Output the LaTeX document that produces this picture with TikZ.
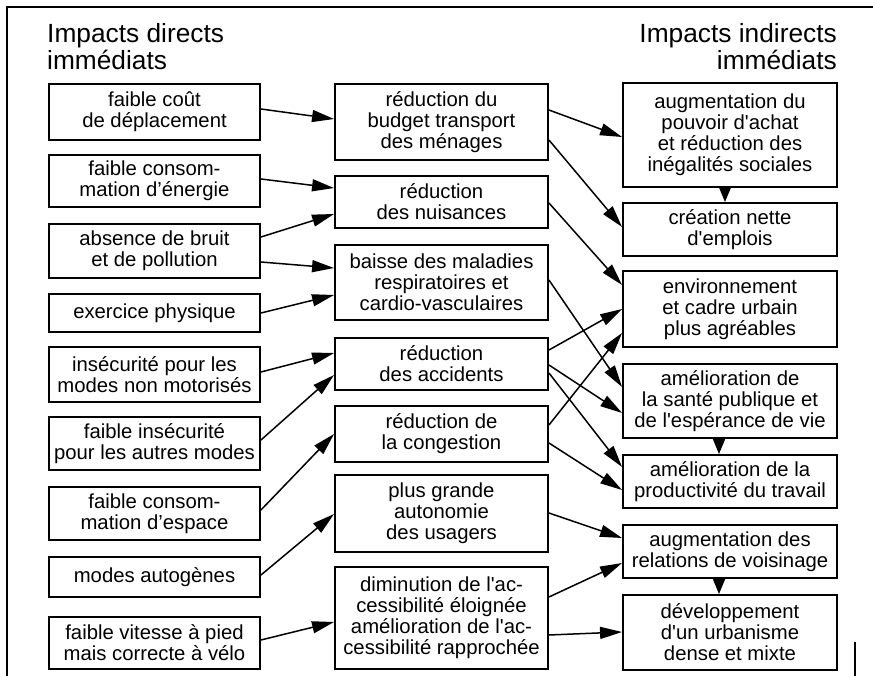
\documentclass[tikz,border=0pt]{standalone}
\usepackage{fontspec}
\newfontfamily\arialf{Liberation Sans}
\usetikzlibrary{arrows.meta}
\begin{document}
\begin{tikzpicture}[x=1pt,y=-1pt,
  box/.style={draw, line width=1.9pt, inner sep=0pt, align=center,
    font=\arialf\fontsize{20.3pt}{21pt}\selectfont},
  ttl/.style={inner sep=0pt, font=\arialf\fontsize{26.3pt}{27pt}\selectfont},
  arr/.style={line width=1.5pt, -{Triangle[length=22pt,width=12pt]}},
  varr/.style={line width=1.5pt, -{Triangle[length=15pt,width=12pt]}},
  frame/.style={line width=1.5pt}]
\useasboundingbox (0,0) rectangle (873,676);
\draw[frame] (7,676) -- (7,7) -- (873,7);
\draw[frame] (855,642) -- (855,676);
% titles
\node[ttl, anchor=base west] (tl1) at (47,43) {Impacts directs};
\node[ttl, anchor=base west] (tl2) at (47,70) {immédiats};
\node[ttl, anchor=base east] (tr1) at (837,43) {Impacts indirects};
\node[ttl, anchor=base east] (tr2) at (837,70) {immédiats};
% left column
\newcommand\lbx[4]{\node[box,minimum width=211pt,minimum height=#3pt] (#1) at (154.5,#2) {#4};}
\newcommand\mbx[4]{\node[box,minimum width=213pt,minimum height=#3pt] (#1) at (441.5,#2) {#4};}
\newcommand\rbx[4]{\node[box,minimum width=214pt,minimum height=#3pt] (#1) at (730,#2) {#4};}
\lbx{L1}{112}{56}{faible coût\\de déplacement}
\lbx{L2}{181}{52}{faible consom-\\mation d’énergie}
\lbx{L3}{251}{54}{absence de bruit\\et de pollution}
\lbx{L4}{313}{38}{exercice physique}
\lbx{L5}{374.5}{55}{insécurité pour les\\modes non motorisés}
\lbx{L6}{443.5}{53}{faible insécurité\\pour les autres modes}
\lbx{L7}{513.5}{53}{faible consom-\\mation d’espace}
\lbx{L8}{577}{40}{modes autogènes}
\lbx{L9}{643}{52}{faible vitesse à pied\\mais correcte à vélo}
% middle column
\mbx{M1}{122}{76}{réduction du\\budget transport\\des ménages}
\mbx{M2}{202}{52}{réduction\\des nuisances}
\mbx{M3}{282.5}{75}{baisse des maladies\\respiratoires et\\cardio-vasculaires}
\mbx{M4}{364}{52}{réduction\\des accidents}
\mbx{M5}{434}{56}{réduction de\\la congestion}
\mbx{M6}{513.5}{77}{plus grande\\autonomie\\des usagers}
\mbx{M7}{618}{102}{diminution de l'ac-\\cessibilité éloignée\\amélioration de l'ac-\\cessibilité rapprochée}
% right column
\rbx{R1}{135}{104}{augmentation du\\pouvoir d'achat\\et réduction des\\inégalités sociales}
\rbx{R2}{229.5}{53}{création nette\\d'emplois}
\rbx{R3}{309}{76}{environnement\\et cadre urbain\\plus agréables}
\rbx{R4}{401}{74}{amélioration de\\la santé publique et\\de l'espérance de vie}
\rbx{R5}{481.5}{53}{amélioration de la\\productivité du travail}
\rbx{R6}{551.5}{53}{augmentation des\\relations de voisinage}
\rbx{R7}{632.5}{75}{développement\\d'un urbanisme\\dense et mixte}
% left -> middle
\draw[arr] (L1.east |- 0,109) -- (M1.west |- 0,119);
\draw[arr] (L2.east |- 0,179) -- (M2.west |- 0,188);
\draw[arr] (L3.east |- 0,237) -- (M2.west |- 0,214);
\draw[arr] (L3.east |- 0,262) -- (M3.west |- 0,268);
\draw[arr] (L4.east |- 0,313) -- (M3.west |- 0,295);
\draw[arr] (L5.east |- 0,372) -- (M4.west |- 0,353);
\draw[arr] (L6.east |- 0,440) -- (M4.west |- 0,375);
\draw[arr] (L7.east |- 0,510) -- (M5.west |- 0,434);
\draw[arr] (L8.east |- 0,575) -- (M6.west |- 0,514);
\draw[arr] (L9.east |- 0,640) -- (M7.west |- 0,622);
% middle -> right
\draw[arr] (M1.east |- 0,110) -- (R1.west |- 0,137);
\draw[arr] (M1.east |- 0,140) -- (R2.west |- 0,227);
\draw[arr] (M2.east |- 0,203) -- (R3.west |- 0,285);
\draw[arr] (M3.east |- 0,280) -- (R4.west |- 0,387);
\draw[arr] (M4.east |- 0,350) -- (R3.west |- 0,309);
\draw[arr] (M5.east |- 0,425) -- (R3.west |- 0,333);
\draw[arr] (M4.east |- 0,365) -- (R4.west |- 0,413);
\draw[arr] (M4.east |- 0,373) -- (R5.west |- 0,467);
\draw[arr] (M5.east |- 0,443) -- (R5.west |- 0,490);
\draw[arr] (M6.east |- 0,513) -- (R6.west |- 0,538);
\draw[arr] (M7.east |- 0,597) -- (R6.west |- 0,563);
\draw[arr] (M7.east |- 0,635) -- (R7.west |- 0,632);
% vertical
\draw[varr] (R1.south -| 725,0) -- (R2.north -| 725,0);
\draw[varr] (R4.south -| 719,0) -- (R5.north -| 719,0);
\draw[varr] (R6.south -| 719,0) -- (R7.north -| 719,0);
\end{tikzpicture}
\end{document}
